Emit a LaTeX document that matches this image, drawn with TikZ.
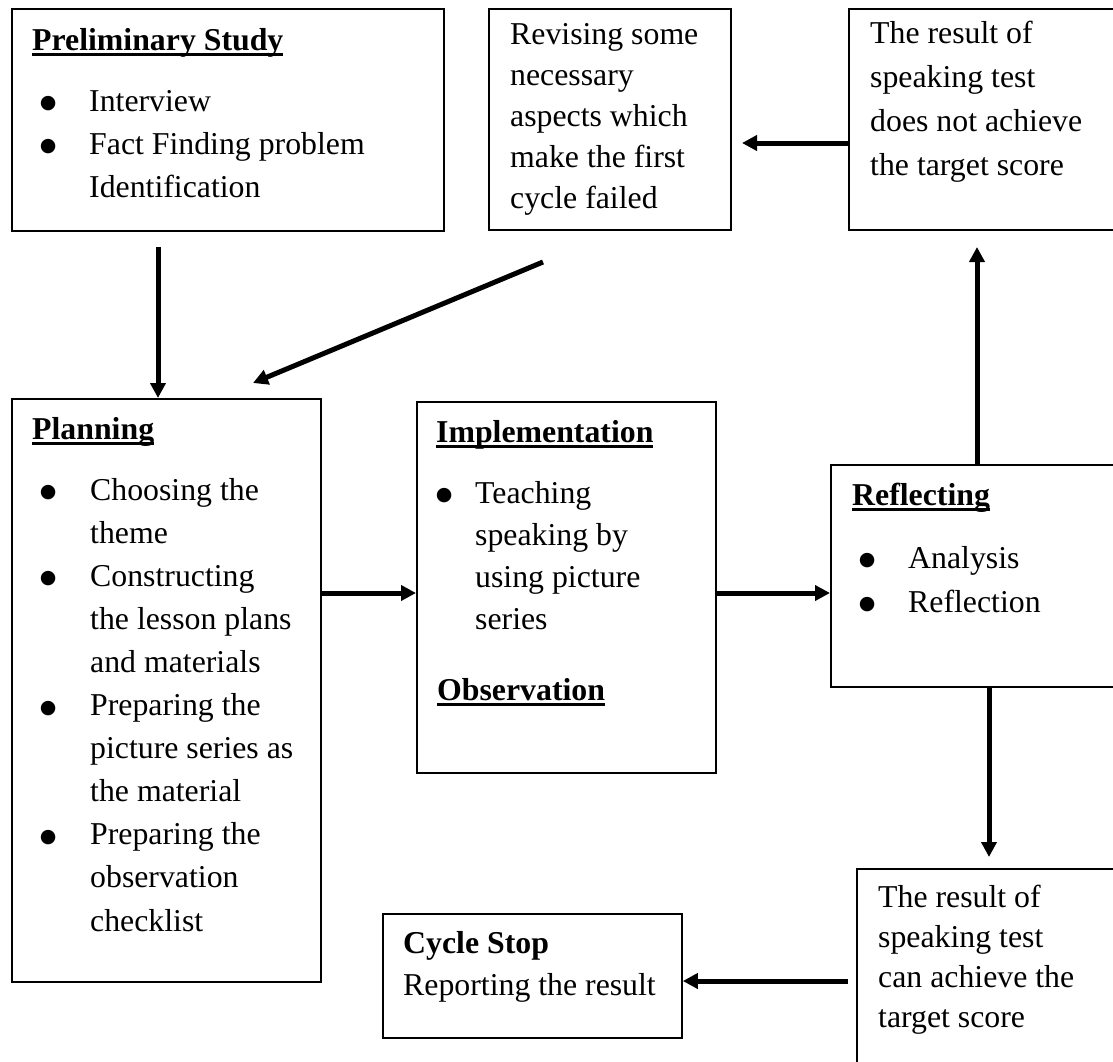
\documentclass[tikz,border=0pt]{standalone}
\usepackage{fontspec}
\setmainfont{Liberation Serif}
\newfontfamily\dvs{DejaVu Sans}
\usetikzlibrary{arrows.meta}
\newcommand\ulbf[1]{\setbox0\hbox{\bfseries #1}\rlap{\vrule height -3pt depth 5.5pt width \wd0}\box0}
\newcommand\bul[1]{\leavevmode\llap{\makebox[0pt][c]{\raisebox{2.5pt}{\dvs\fontsize{19pt}{19pt}\selectfont ●}}\hspace*{#1}}}
\newcommand\lns[3]{\parbox[t]{#2}{\setlength\baselineskip{#1}#3}}
\tikzset{
  box/.style={draw, line width=1.8pt, inner sep=0pt, anchor=north west},
  txt/.style={inner sep=0pt, anchor=base west, align=left, font=\fontsize{31.8pt}{43pt}\selectfont},
  arr/.style={line width=5pt, -{Triangle[length=15pt,width=15pt]}},
}
\begin{document}
\begin{tikzpicture}[x=1pt,y=-1pt]
\useasboundingbox (0,0) rectangle (1113,1061);
\clip (0,0) rectangle (1113,1061);
\fill[white] (0,0) rectangle (1113,1061);
% boxes
\node[box, minimum width=432pt, minimum height=222pt] (prelim) at (11,8) {};
\node[box, minimum width=242pt, minimum height=221pt] (revise) at (488,8) {};
\node[box, minimum width=280pt, minimum height=221pt] (notach) at (848,8) {};
\node[box, minimum width=309pt, minimum height=583pt] (planning) at (11,398) {};
\node[box, minimum width=299pt, minimum height=371pt] (impl) at (416,401) {};
\node[box, minimum width=300pt, minimum height=222pt] (reflect) at (830,464) {};
\node[box, minimum width=300pt, minimum height=220pt] (canach) at (856,868) {};
\node[box, minimum width=299pt, minimum height=124pt] (cstop) at (382,913) {};
% texts
\node[txt] (prelimH) at (32,50) {\ulbf{Preliminary Study}};
\node[txt] (prelimL) at (89,111) {\lns{43pt}{340pt}{\bul{41pt}Interview\\ \bul{41pt}Fact Finding problem\\ Identification}};
\node[txt] (reviseT) at (510,44) {\lns{41pt}{215pt}{Revising some\\ necessary\\ aspects which\\ make the first\\ cycle failed}};
\node[txt] (notachT) at (870,43) {\lns{44pt}{240pt}{The result of\\ speaking test\\ does not achieve\\ the target score}};
\node[txt] (planH) at (32,439) {\ulbf{Planning}};
\node[txt] (planL) at (90,500) {\lns{43.1pt}{225pt}{\bul{42pt}Choosing the\\ theme\\ \bul{42pt}Constructing\\ the lesson plans\\ and materials\\ \bul{42pt}Preparing the\\ picture series as\\ the material\\ \bul{42pt}Preparing the\\ observation\\ checklist}};
\node[txt] (implH) at (436,442) {\ulbf{Implementation}};
\node[txt] (implL) at (475,503) {\lns{42pt}{230pt}{\bul{31pt}Teaching\\ speaking by\\ using picture\\ series}};
\node[txt] (obsH) at (437,700) {\ulbf{Observation}};
\node[txt] (reflH) at (852,505) {\ulbf{Reflecting}};
\node[txt] (reflL) at (908,568) {\lns{44pt}{200pt}{\bul{41pt}Analysis\\ \bul{41pt}Reflection}};
\node[txt] (canachT) at (878,907) {\lns{40pt}{235pt}{The result of\\ speaking test\\ can achieve the\\ target score}};
\node[txt] (cstopH) at (403,953) {\bfseries Cycle Stop};
\node[txt] (cstopT) at (403,995) {Reporting the result};
% connector end points
\coordinate (pa) at (158,247);
\coordinate (da) at (543,262);
\coordinate (db) at (253,383);
\coordinate (ta) at (742,143);
\coordinate (ua) at (977,247);
\coordinate (hy) at (0,593);
\coordinate (dn) at (989,857);
\coordinate (la) at (848,981);
% connectors
\draw[arr] (pa) -- (pa |- planning.north);
\draw[arr] (da) -- (db);
\draw[arr] (notach.west |- ta) -- (ta);
\draw[arr] (reflect.north -| ua) -- (ua);
\draw[arr] (planning.east |- hy) -- (impl.west |- hy);
\draw[arr] (impl.east |- hy) -- (reflect.west |- hy);
\draw[arr] (reflect.south -| dn) -- (dn);
\draw[arr] (la) -- (cstop.east |- la);
\end{tikzpicture}
\end{document}
